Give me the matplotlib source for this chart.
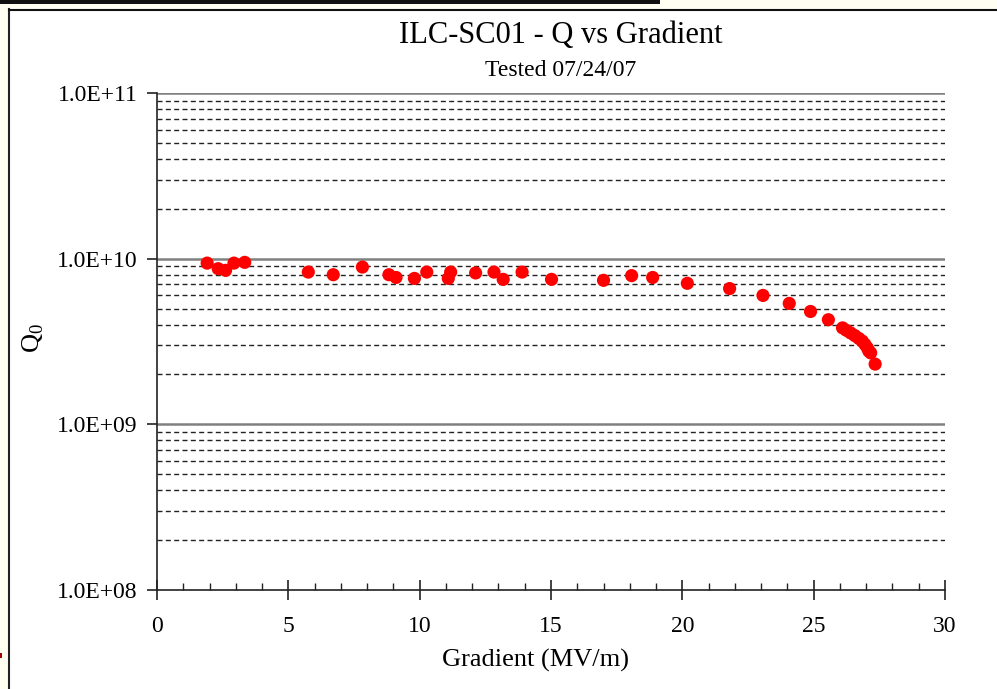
import matplotlib
matplotlib.use("Agg")
import matplotlib.pyplot as plt
from matplotlib.ticker import FixedLocator, NullFormatter, MultipleLocator
from matplotlib.patches import Rectangle

gradient = [1.91, 2.33, 2.61, 2.93, 3.34, 5.76, 6.71, 7.82, 8.83, 9.10, 9.80, 10.27,
            11.09, 11.18, 12.13, 12.83, 13.18, 13.90, 15.02, 17.00, 18.07, 18.87,
            20.19, 21.80, 23.07, 24.07, 24.88, 25.56, 26.10, 26.25, 26.41, 26.57,
            26.72, 26.85, 26.95, 27.04, 27.10, 27.17, 27.34]
q0 = [9.4e9, 8.7e9, 8.5e9, 9.4e9, 9.5e9, 8.3e9, 8.0e9, 8.9e9, 8.0e9, 7.7e9, 7.6e9, 8.3e9,
      7.6e9, 8.3e9, 8.2e9, 8.3e9, 7.5e9, 8.3e9, 7.5e9, 7.4e9, 7.9e9, 7.7e9,
      7.1e9, 6.6e9, 6.0e9, 5.37e9, 4.8e9, 4.28e9, 3.82e9, 3.69e9, 3.56e9, 3.43e9,
      3.30e9, 3.18e9, 3.04e9, 2.90e9, 2.77e9, 2.70e9, 2.31e9]
y_tick_values = [1e8, 1e9, 1e10, 1e11]
y_tick_labels = ["1.0E+08", "1.0E+09", "1.0E+10", "1.0E+11"]
x_tick_values = [0, 5, 10, 15, 20, 25, 30]

plt.rcParams['font.family'] = ['Liberation Serif', 'DejaVu Serif']

W, H = 997, 689
fig = plt.figure(figsize=(W / 100, H / 100), dpi=100)
fig.patch.set_facecolor('white')

# screenshot framing
fig.patches.append(Rectangle((0, 0), 9 / W, 1, transform=fig.transFigure,
                             facecolor='#fffff2', edgecolor='none', zorder=0))
fig.patches.append(Rectangle((0, 1 - 9 / H), 1, 9 / H, transform=fig.transFigure,
                             facecolor='#fffff2', edgecolor='none', zorder=0))
fig.patches.append(Rectangle((0, 1 - 4 / H), 660 / W, 4 / H, transform=fig.transFigure,
                             facecolor='#111111', edgecolor='none', zorder=1))
fig.add_artist(plt.Line2D([9 / W, 9 / W], [0, 1 - 9 / H], transform=fig.transFigure,
                          color='#222222', lw=1.5))
fig.add_artist(plt.Line2D([9 / W, 1], [1 - 9.5 / H, 1 - 9.5 / H], transform=fig.transFigure,
                          color='#111111', lw=1.5))
fig.patches.append(Rectangle((0, 1 - 658 / H), 2 / W, 5 / H, transform=fig.transFigure,
                             facecolor='#a00000', edgecolor='none', zorder=1))

ax = fig.add_axes([157 / W, 1 - 590 / H, (945 - 157) / W, (590 - 93) / H])
ax.set_yscale('log')
ax.set_xlim(0, 30)
ax.set_ylim(1e8, 1e11)

# grid lines
for dec in [1e8, 1e9, 1e10]:
    for m in range(2, 10):
        ax.axhline(dec * m, color='#222222', lw=1.0, ls=(0, (3.6, 2.4)), zorder=1)
for v in [1e9, 1e10, 1e11]:
    ax.axhline(v, color='#808080', lw=1.8, zorder=1)

ax.scatter(gradient, q0, s=90, color='#ff0000', edgecolors='none', zorder=3)

ax.spines['top'].set_visible(False)
ax.spines['right'].set_visible(False)
for s in ['left', 'bottom']:
    ax.spines[s].set_color('#222222')
    ax.spines[s].set_linewidth(1.2)

ax.yaxis.set_major_locator(FixedLocator(y_tick_values))
ax.set_yticklabels(y_tick_labels)
ax.yaxis.set_minor_locator(FixedLocator([]))
ax.yaxis.set_minor_formatter(NullFormatter())
ax.tick_params(axis='y', which='major', direction='out', length=7, width=1.2,
               labelsize=17, pad=7, color='#222222')

ax.xaxis.set_major_locator(FixedLocator(x_tick_values))
ax.set_xticklabels([str(v) for v in x_tick_values])
ax.xaxis.set_minor_locator(MultipleLocator(1))
ax.tick_params(axis='x', which='major', direction='inout', length=14, width=1.2,
               labelsize=17, pad=12, color='#222222')
ax.tick_params(axis='x', which='minor', direction='in', length=5, width=1.0,
               color='#222222')

fig.text(561 / W, 1 - 35 / H, "ILC-SC01 - Q vs Gradient", ha='center', va='center',
         fontsize=22)
fig.text(561 / W, 1 - 70 / H, "Tested 07/24/07", ha='center', va='center', fontsize=17)
fig.text(535 / W, 1 - 660 / H, "Gradient (MV/m)", ha='center', va='center', fontsize=19)
fig.text(33 / W, 1 - 338 / H, r"Q$_\mathregular{0}$", ha='center', va='center',
         fontsize=19, rotation=90)

fig.savefig("out.png", dpi=100)
